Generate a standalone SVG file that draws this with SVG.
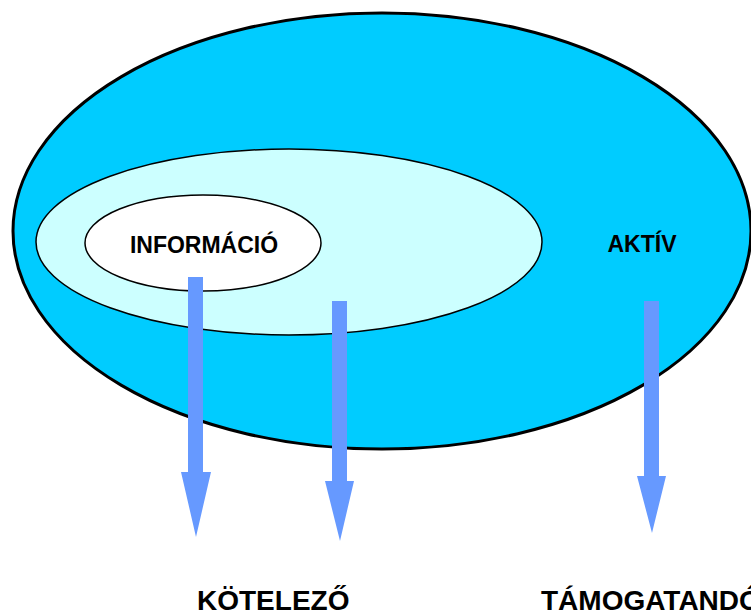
<svg xmlns="http://www.w3.org/2000/svg" width="751" height="612" viewBox="0 0 751 612">
<style>
.lbl{font-family:"Liberation Sans",Arial,sans-serif;font-weight:bold;fill:#000}
.arrow{fill:#6699FF}
</style>
<rect width="751" height="612" fill="#fff"/>
<g id="aktiv">
<ellipse cx="382" cy="231" rx="369" ry="218" fill="#00CCFF" stroke="#000" stroke-width="3"/>
<text class="lbl" x="642" y="252" font-size="23" text-anchor="middle">AKTÍV</text>
</g>
<g id="manipulacio">
<ellipse cx="289" cy="242" rx="253" ry="93" fill="#CCFFFF" stroke="#000" stroke-width="1.5"/>
</g>
<g id="informacio">
<ellipse cx="203" cy="243" rx="118" ry="48" fill="#fff" stroke="#000" stroke-width="1.5"/>
<text class="lbl" x="204" y="253" font-size="23" text-anchor="middle">INFORMÁCIÓ</text>
</g>
<g id="connectors">
<polygon class="arrow" points="188,277 203,277 203,472 211,472 196,537 181,472 188,472"/>
<polygon class="arrow" points="332,301 347,301 347,481 354,481 340,541 325,481 332,481"/>
<polygon class="arrow" points="644,301 659,301 659,476 666,476 652,533 637,476 644,476"/>
</g>
<g id="kotelezo">
<text class="lbl" x="197" y="610" font-size="28">KÖTELEZŐ</text>
</g>
<g id="tamogatando">
<text class="lbl" x="541" y="610" font-size="28">TÁMOGATANDÓ</text>
</g>
</svg>
